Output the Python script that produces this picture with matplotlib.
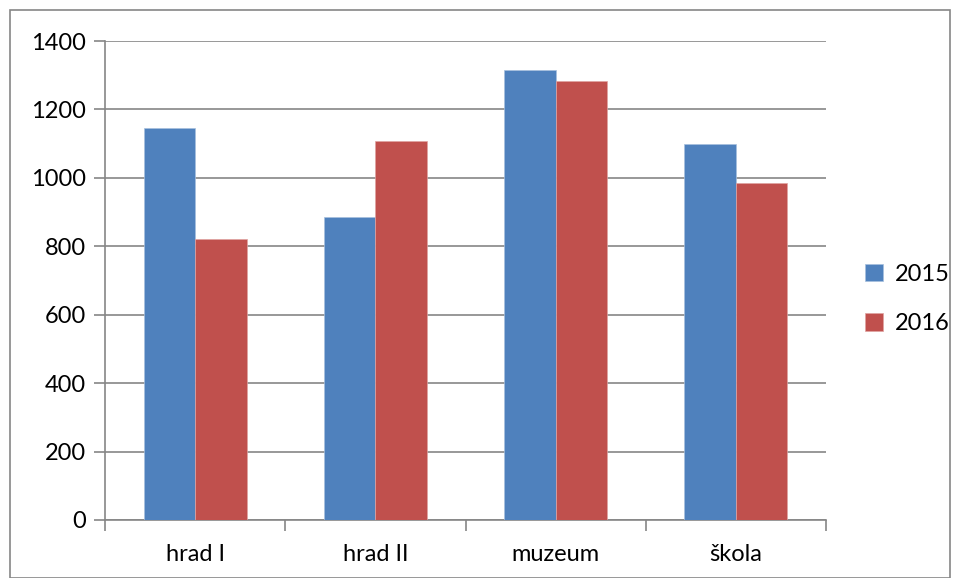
import numpy as np
import matplotlib.pyplot as plt
from matplotlib.patches import Rectangle

# data
categories = ['hrad I', 'hrad II', 'muzeum', 'škola']
years = ['2015', '2016']
values_2015 = [1145, 885, 1315, 1100]
values_2016 = [820, 1108, 1282, 985]
colors = ['#4F81BD', '#C0504D']

plt.rcParams['font.family'] = ['Lato', 'DejaVu Sans']
GRID = '#868686'
FS = 17

W, H = 957, 578
fig = plt.figure(figsize=(W / 100, H / 100), dpi=100)
ax = fig.add_axes([105 / W, 1 - 520 / H, (826 - 105) / W, (520 - 41) / H])

# outer chart border
fig.patches.append(Rectangle((10 / W, 0), (950 - 10) / W, 1 - 10 / H,
                             transform=fig.transFigure, fill=False,
                             edgecolor=GRID, linewidth=1.2))

x = np.arange(len(categories))
bw = 1 / 3.5
ax.bar(x - bw / 2, values_2015, bw, color=colors[0], label=years[0],
       edgecolor='#A7C0DE', linewidth=0.5, zorder=3)
ax.bar(x + bw / 2, values_2016, bw, color=colors[1], label=years[1],
       edgecolor='#E0A3A1', linewidth=0.5, zorder=3)

ax.set_xlim(-0.5, len(categories) - 0.5)
ax.set_ylim(0, 1400)
ax.set_yticks(range(0, 1401, 200))
ax.yaxis.grid(True, color=GRID, linewidth=1.2)
ax.set_axisbelow(True)

ax.set_xticks(np.arange(-0.5, len(categories)), minor=False)
ax.set_xticklabels([])
ax.set_xticks(x, minor=True)
ax.set_xticklabels(categories, minor=True)
ax.tick_params(axis='x', which='major', length=8, width=1.2, color=GRID, direction='out')
ax.tick_params(axis='x', which='minor', length=0, pad=17, labelsize=FS)
ax.tick_params(axis='y', length=8, width=1.2, color=GRID, labelsize=FS, pad=6)

for side in ['top', 'right']:
    ax.spines[side].set_visible(False)
for side in ['left', 'bottom']:
    ax.spines[side].set_color(GRID)
    ax.spines[side].set_linewidth(1.2)

fig.legend(loc='center left', bbox_to_anchor=(858 / W, 1 - 299 / H),
           frameon=False, fontsize=FS, handlelength=0.75, handleheight=0.75,
           handletextpad=0.5, labelspacing=1.2, borderaxespad=0, borderpad=0.3)

fig.savefig('out.png', dpi=100)
